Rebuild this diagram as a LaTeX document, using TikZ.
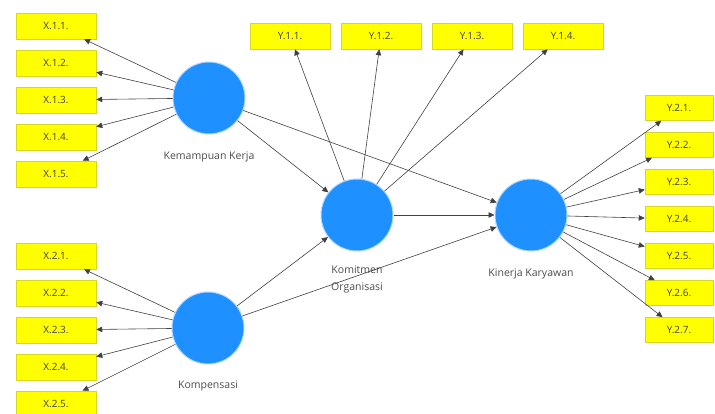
\documentclass[tikz,border=0pt]{standalone}
\usepackage{fontspec}
\setmainfont{Open Sans}
\usetikzlibrary{positioning,arrows.meta}
\definecolor{latblue}{RGB}{30,144,255}
\definecolor{indyellow}{RGB}{255,255,0}
\definecolor{indborder}{RGB}{214,214,40}

\begin{document}
\begin{tikzpicture}[x=1pt, y=1pt, >={Triangle[length=6pt,width=5.5pt]},
                    latnode/.style={circle, fill=latblue, draw=latblue!35, line width=1pt, minimum size=72pt, inner sep=0pt},
                    indnode/.style={rectangle, fill=indyellow, draw=indborder, line width=0.5pt, minimum width=80pt, minimum height=26pt, inner sep=0pt, font=\fontsize{10}{11}\selectfont, text=black!75},
                    every label/.style={font=\fontsize{10.5}{17}\selectfont, text=black!70, align=center},
                    link/.style={->, draw=black!75, line width=0.6pt},]
    \useasboundingbox (0,0) rectangle (715,-414);
    % latent variables
    \node[latnode]      (kk)    at (209,-98)    [label={[yshift=-14pt]below:Kemampuan Kerja}]     {};
    \node[latnode]      (komp)  at (208,-328)   [label={[yshift=-13pt]below:Kompensasi}]          {};
    \node[latnode]      (ko)    at (357,-215)   [label={[yshift=-11pt]below:Komitmen\\Organisasi}] {};
    \node[latnode]      (kin)   at (531,-215)   [label={[yshift=-14pt]below:Kinerja Karyawan}]    {};
    % indicators X.1
    \node[indnode]      (x11)   at (56,-26)                 {X.1.1.};
    \node[indnode]      (x12)   [below=10.5pt of x11]       {X.1.2.};
    \node[indnode]      (x13)   [below=10.5pt of x12]       {X.1.3.};
    \node[indnode]      (x14)   [below=10.5pt of x13]       {X.1.4.};
    \node[indnode]      (x15)   [below=10.5pt of x14]       {X.1.5.};
    % indicators X.2
    \node[indnode]      (x21)   at (56,-256)                {X.2.1.};
    \node[indnode]      (x22)   [below=10.5pt of x21]       {X.2.2.};
    \node[indnode]      (x23)   [below=10.5pt of x22]       {X.2.3.};
    \node[indnode]      (x24)   [below=10.5pt of x23]       {X.2.4.};
    \node[indnode]      (x25)   [below=10.5pt of x24]       {X.2.5.};
    % indicators Y.1
    \node[indnode]      (y11)   at (290,-36)                {Y.1.1.};
    \node[indnode]      (y12)   [right=10.5pt of y11]       {Y.1.2.};
    \node[indnode]      (y13)   [right=10.5pt of y12]       {Y.1.3.};
    \node[indnode]      (y14)   [right=10.5pt of y13]       {Y.1.4.};
    % indicators Y.2
    \node[indnode, minimum width=68pt, minimum height=25pt] (y21) at (679,-108) {Y.2.1.};
    \node[indnode, minimum width=68pt, minimum height=25pt] (y22) [below=11.5pt of y21] {Y.2.2.};
    \node[indnode, minimum width=68pt, minimum height=25pt] (y23) [below=11.5pt of y22] {Y.2.3.};
    \node[indnode, minimum width=68pt, minimum height=25pt] (y24) [below=11.5pt of y23] {Y.2.4.};
    \node[indnode, minimum width=68pt, minimum height=25pt] (y25) [below=11.5pt of y24] {Y.2.5.};
    \node[indnode, minimum width=68pt, minimum height=25pt] (y26) [below=11.5pt of y25] {Y.2.6.};
    \node[indnode, minimum width=68pt, minimum height=25pt] (y27) [below=11.5pt of y26] {Y.2.7.};
    % outer model
    \draw[link] (kk) -- (x11);
    \draw[link] (kk) -- (x12);
    \draw[link] (kk) -- (x13);
    \draw[link] (kk) -- (x14);
    \draw[link] (kk) -- (x15);
    \draw[link] (komp) -- (x21);
    \draw[link] (komp) -- (x22);
    \draw[link] (komp) -- (x23);
    \draw[link] (komp) -- (x24);
    \draw[link] (komp) -- (x25);
    \draw[link] (ko) -- (y11);
    \draw[link] (ko) -- (y12);
    \draw[link] (ko) -- (y13);
    \draw[link] (ko) -- (y14);
    \draw[link] (kin) -- (y21);
    \draw[link] (kin) -- (y22);
    \draw[link] (kin) -- (y23);
    \draw[link] (kin) -- (y24);
    \draw[link] (kin) -- (y25);
    \draw[link] (kin) -- (y26);
    \draw[link] (kin) -- (y27);
    % inner model
    \draw[link] (kk) -- (ko);
    \draw[link] (kk) -- (kin);
    \draw[link] (komp) -- (ko);
    \draw[link] (komp) -- (kin);
    \draw[link] (ko) -- (kin);
\end{tikzpicture}
\end{document}
